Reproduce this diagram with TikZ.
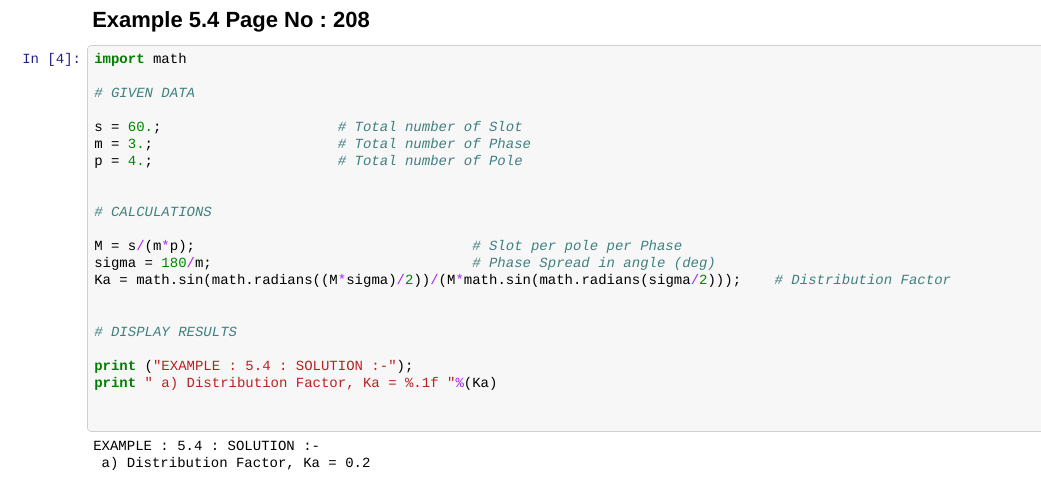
\documentclass[tikz,border=0pt]{standalone}
\usepackage{fontspec}
\setmainfont{Liberation Sans}
\setmonofont{Liberation Mono}
\frenchspacing

\definecolor{kwgreen}{HTML}{008000}
\definecolor{numgreen}{HTML}{008800}
\definecolor{cmtteal}{HTML}{408080}
\definecolor{strred}{HTML}{BA2121}
\definecolor{oppurple}{HTML}{AA22FF}
\definecolor{promptblue}{HTML}{202090}
\definecolor{cellfill}{HTML}{F7F7F7}
\definecolor{cellline}{HTML}{CFCFCF}

\newcommand\kw[1]{\textcolor{kwgreen}{\bfseries #1}}
\newcommand\nm[1]{\textcolor{numgreen}{#1}}
\newcommand\opr[1]{\textcolor{oppurple}{#1}}
\newcommand\cstr[1]{\textcolor{strred}{#1}}

\begin{document}
\begin{tikzpicture}[x=0.75pt,y=-0.75pt,
  code/.style={anchor=base west,inner sep=0pt,font=\ttfamily\fontsize{10.5}{12}\selectfont},
  cmt/.style={anchor=base west,inner sep=0pt,text=cmtteal,font=\ttfamily\itshape\fontsize{10.5}{12}\selectfont}]
\useasboundingbox (0,0) rectangle (1041,484);
\fill[white] (0,0) rectangle (1041,484);

% heading
\node[anchor=base west,inner sep=0pt,font=\bfseries\fontsize{16.5}{18}\selectfont] (title) at (92,28) {Example 5.4 Page No : 208};

% input cell
\draw[cellline,fill=cellfill,rounded corners=2.5pt] (87.5,45.5) rectangle (1050,431.5);
\node[code,text=promptblue] (prompt) at (22,64) {In [4]:};

\node[code] (imp) at (94,64) {\kw{import} math};
\node[cmt] (given) at (94,98) {\# GIVEN DATA};

\node[code] (s) at (94,132) {s = \nm{60.};};
\node[code] (m) at (94,149) {m = \nm{3.};};
\node[code] (p) at (94,166) {p = \nm{4.};};
\node[cmt] (cs) at (337.6,132) {\# Total number of Slot};
\node[cmt] (cm) at (337.6,149) {\# Total number of Phase};
\node[cmt] (cp) at (337.6,166) {\# Total number of Pole};

\node[cmt] (calc) at (94,217) {\# CALCULATIONS};

\node[code] (M) at (94,251) {M = s\opr{/}(m\opr{*}p);};
\node[code] (sigma) at (94,268) {sigma = \nm{180}\opr{/}m;};
\node[code] (Ka) at (94,285) {Ka = math.sin(math.radians((M\opr{*}sigma)\opr{/}\nm{2}))\opr{/}(M\opr{*}math.sin(math.radians(sigma\opr{/}\nm{2})));};
\node[cmt] (cM) at (472,251) {\# Slot per pole per Phase};
\node[cmt] (csigma) at (472,268) {\# Phase Spread in angle (deg)};
\node[cmt] (cKa) at (774.4,285) {\# Distribution Factor};

\node[cmt] (disp) at (94,336) {\# DISPLAY RESULTS};

\node[code] (pr1) at (94,370) {\kw{print} (\cstr{"EXAMPLE : 5.4 : SOLUTION :-"});};
\node[code] (pr2) at (94,387) {\kw{print} \cstr{" a) Distribution Factor, Ka = \%.1f "}\opr{\%}(Ka)};

% output
\node[code] (out1) at (93,450) {EXAMPLE : 5.4 : SOLUTION :-};
\node[code] (out2) at (101.4,467) {a) Distribution Factor, Ka = 0.2};
\end{tikzpicture}
\end{document}
